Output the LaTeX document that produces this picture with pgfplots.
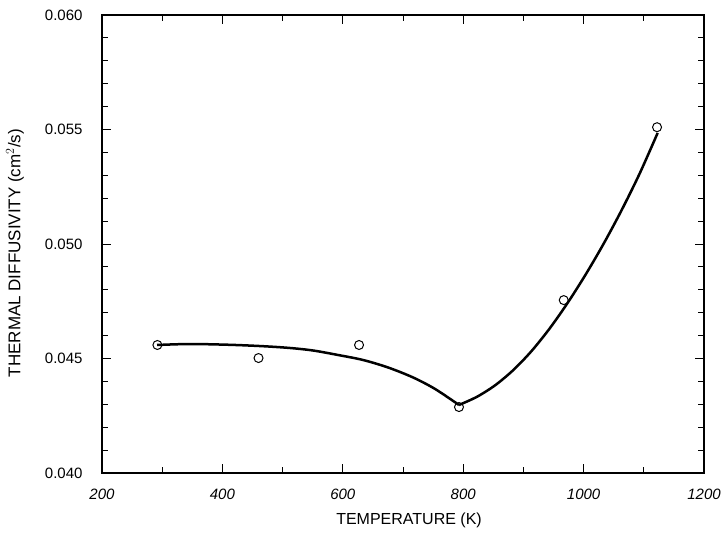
\documentclass[border=0pt]{standalone}
\usepackage{pgfplots}
\pgfplotsset{compat=1.18}
\usepackage{fontspec}
\setmainfont{Liberation Sans}
\begin{document}
\begin{tikzpicture}
\begin{axis}[
    at={(0,0)}, anchor=south west,
    scale only axis,
    width=602pt, height=458pt,
    xmin=200, xmax=1200,
    ymin=0.040, ymax=0.060,
    xtick={200,400,600,800,1000,1200},
    xticklabels={\itshape 200,\itshape 400,\itshape 600,\itshape 800,\itshape 1000,\itshape 1200},
    ytick={0.040,0.045,0.050,0.055,0.060},
    yticklabels={0.040,0.045,0.050,0.055,0.060},
    minor x tick num=1,
    minor y tick num=4,
    major tick length=9pt,
    minor tick length=6pt,
    every tick/.style={black, line width=1pt},
    axis line style={line width=1.3pt},
    scaled y ticks=false,
    tick label style={font=\fontsize{15}{17}\selectfont},
    xticklabel style={yshift=-12pt},
    yticklabel style={xshift=-16pt},
    xlabel={TEMPERATURE (K)},
    ylabel={THERMAL DIFFUSIVITY (cm$^2$/s)},
    every axis x label/.style={at={(rel axis cs:0.51,0)}, anchor=center, yshift=-47pt,
        font=\fontsize{16}{18}\selectfont},
    every axis y label/.style={at={(axis description cs:-0.1445,0.48)}, anchor=center, rotate=90,
        font=\fontsize{17}{19}\selectfont},
]
% fitted curve, falling branch
\addplot[black, line width=2.5pt, smooth] coordinates {
    (291.4,0.045590)(346.3,0.045633)(412.7,0.045598)(467.6,0.045537)(512.4,0.045459)
    (550.7,0.045349)(592.2,0.045153)(633.8,0.044934)(675.3,0.044607)(716.9,0.044170)
    (753.4,0.043668)(793,0.042970)
};
% fitted curve, rising branch
\addplot[black, line width=2.5pt, smooth] coordinates {
    (793,0.04297)(823,0.04333)(853,0.04383)(883,0.04449)(913,0.04531)
    (943,0.04629)(973,0.04741)(1003,0.04865)(1033,0.05000)(1063,0.05147)
    (1093,0.05307)(1123,0.05485)
};
% measured points
\addplot[only marks, mark=o, mark size=4.5pt, mark options={black, fill=white, line width=1pt}] coordinates {
    (292,0.04559)(460,0.04502)(627,0.04559)(793,0.04288)(967,0.04755)(1122,0.05510)
};
\end{axis}
\pgfresetboundingbox
\path[use as bounding box] (-102pt,-60pt) rectangle (625pt,473pt);
\end{tikzpicture}
\end{document}
